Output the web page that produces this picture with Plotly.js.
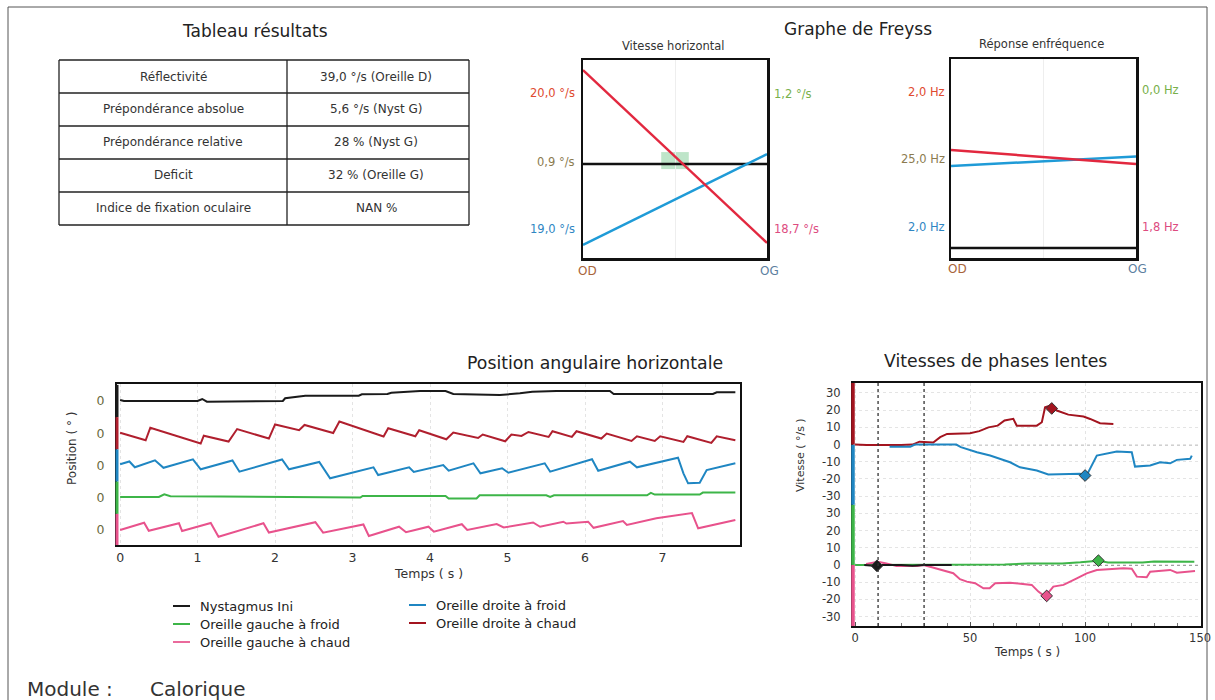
<!DOCTYPE html>
<html><head><meta charset="utf-8">
<script src="https://cdn.plot.ly/plotly-3.0.1.min.js"></script>
<style>html,body{margin:0;padding:0;background:#fff}#chart{width:1215px;height:700px}</style>
</head><body><div id="chart"></div>
<script>
// ---------- Tableau résultats ----------
const tableLabels = ['Réflectivité','Prépondérance absolue','Prépondérance relative','Deficit','Indice de fixation oculaire'];
const tableValues = ['39,0 °/s (Oreille D)','5,6 °/s (Nyst G)','28 % (Nyst G)','32 % (Oreille G)','NAN %'];

// ---------- Graphe de Freyss ----------
const freyssSides = ['OD','OG'];
const freyssX = [0, 1];
const freyssVitRed = [94.9, 7.6];
const freyssVitBlue = [6.6, 52.5];
const freyssVitBlack = [47.5, 47.5];
const freyssVitMarker = [0.5, 49.2];
const freyssVitLeft = ['20,0 °/s','0,9 °/s','19,0 °/s'];
const freyssVitRight = ['1,2 °/s','18,7 °/s'];
const freyssFreqRed = [54.3, 47.2];
const freyssFreqBlue = [46.2, 51.0];
const freyssFreqBlack = [5.0, 5.0];
const freyssFreqLeft = ['2,0 Hz','25,0 Hz','2,0 Hz'];
const freyssFreqRight = ['0,0 Hz','1,8 Hz'];

// ---------- Position angulaire horizontale ----------
const seriesNames = ['Nystagmus Ini','Oreille gauche à froid','Oreille gauche à chaud','Oreille droite à froid','Oreille droite à chaud'];
const posTicks = [0,1,2,3,4,5,6,7];
const posT_black = [0,0.05,1.0,1.06,1.12,1.9,2.1,2.13,2.39,3.08,3.12,3.45,3.5,3.87,4.2,4.3,4.9,5.16,5.32,5.63,6.32,6.37,7.65,7.7,7.94];
const posV_black = [1,0,0,2,-0.7,-0.3,0,2.7,5.3,5.3,6.7,7,8.3,10,10,7,6,7.7,9.3,10,10,7,7,8.7,8.7];
const posT_red = [0,0.33,0.39,1.04,1.08,1.40,1.51,1.92,2.00,2.31,2.38,2.75,2.83,3.40,3.46,3.81,3.86,4.21,4.30,4.62,4.68,4.97,5.05,5.18,5.27,5.53,5.58,5.83,5.89,6.21,6.28,6.60,6.67,6.90,6.97,7.27,7.32,7.63,7.70,7.94];
const posV_red = [0.5,-7,5.5,-10.3,-2.5,-8.3,4.2,-5.3,8.8,3,8.3,0.3,11.7,-3.3,5,-3,3,-6,0.7,-4.7,-1.3,-8,-1.3,-2.7,1.3,-3.7,2,-3.7,2,-5.3,-0.3,-7.7,-3,-7.7,-3,-8.7,-3,-9.7,-3,-7];
const posT_blue = [0,0.12,0.19,0.45,0.56,0.94,1.04,1.45,1.54,2.09,2.18,2.57,2.71,3.27,3.33,3.73,3.79,4.17,4.24,4.56,4.65,4.93,5.01,5.30,5.48,5.55,6.09,6.17,6.58,6.67,7.20,7.27,7.33,7.48,7.57,7.94];
const posV_blue = [1.2,4,-1.8,5.2,-2.3,6.2,-3.8,5,-6.2,6,-3.8,3.5,-12.8,-1.8,-9.5,-1.8,-6.5,0.5,-5.2,2.2,-7.8,-2.8,-7.2,-1.5,2.2,-6.2,6.2,-5.2,3.8,-1.8,7.8,-7.8,-17.8,-17.2,-4.5,2.2];
const posT_green = [0,0.5,0.57,0.65,1.3,2.0,2.6,3.1,3.13,4.2,4.24,4.6,4.64,5.5,5.55,5.6,6.8,6.85,6.9,7.48,7.52,7.94];
const posV_green = [0.8,0.8,3.5,1.5,1.2,0.8,0.2,0.2,1.8,1.8,-0.8,-0.8,2.5,2.5,0.8,2.5,2.5,4.8,3.2,3.2,5.2,5.2];
const posT_pink = [0,0.31,0.37,0.76,0.80,1.17,1.27,1.85,1.92,2.52,2.62,3.14,3.21,3.60,3.69,3.98,4.05,4.41,4.48,4.86,4.95,5.33,5.42,5.72,5.76,6.04,6.11,6.49,6.54,6.92,7.38,7.46,7.94];
const posV_pink = [0,7.3,-0.8,6.7,-1,7,-6.7,6.7,-2.5,7.8,-2.7,5.5,-6,3.3,-2.2,3.3,-1.7,5.8,0,6,2.5,7.5,3.2,8.3,6.5,8.3,2.2,9,5,11.7,17,1.7,10];

// ---------- Vitesses de phases lentes ----------
const velTicks = [0,50,100,150];
const velTickLabels = ['-30','-20','-10','0','10','20','30'];
const velWindow = [10, 30];
const velT_black = [4,8,12,20,25,30,42];
const velV_black = [0,-0.5,0,0,-0.5,0,0];
const velT_blue = [15,24,26,44,46,53,58.7,67.4,71.7,79,84,97.8,100,101.4,105.1,109.4,113.8,120.3,121.7,128.3,132.6,137,139.9,145.7,146.4];
const velV_blue = [-1.2,-1.2,0,0,-1.5,-4.5,-6.4,-10.3,-13.2,-15.1,-17.4,-17,-18,-16.1,-6.4,-5.4,-4.1,-4.5,-12.8,-12.2,-10.3,-10.9,-8.9,-8.3,-6.4];
const velT_green = [0,50,65,75,90,98,105.8,110,125,130,140,147.5];
const velV_green = [0,0,0.3,0.8,0.8,1.5,2.5,1.4,1.4,2,2,1.8];
const velT_red = [0,5,20,25,28,34,37,40,50,54,58,62,65,68.8,70.3,79,81.2,82.6,84.8,87.7,92.7,99.3,102.2,106.5,112.3];
const velV_red = [0,-0.3,-0.3,0,1.7,1.2,4.3,6.2,6.6,7.8,10,11,14,15,11,11,13,21.7,22.7,19.8,17.4,16.3,14.9,12.4,12];
const velT_pink = [4.8,10,13.6,18,27,29.7,32.6,38.4,42.7,45.6,48.6,52.2,55.8,58.5,60.9,67.4,76.8,79.7,82.6,86.2,90.6,96.4,100.7,105.1,116.7,120.3,122.5,126.8,128.3,137,139.9,147.8];
const velV_pink = [0.5,1.9,0.9,-0.6,-0.6,0,-1,-3.3,-4.8,-8.3,-9.7,-10.6,-13.6,-13.6,-10.6,-10.3,-11.6,-15.5,-18.4,-12.6,-11.6,-7.8,-4.9,-2.9,-1.9,-2.2,-6.8,-7.2,-3.9,-2.9,-4.5,-3.5];
// peaks: black, blue, green, red, pink
const velPeakT = [9.5, 100, 105.8, 85.5, 83.3];
const velPeakV = [-0.5, -18, 2.5, 21, -18];

// ---------- helpers / styles ----------
const W = 1215, H = 700;
const X = p => p / W, Y = p => 1 - p / H;
const C = {black:'#1a1a1a', red:'#b01f2e', vred:'#a3141f', blue:'#1f86c2', green:'#3db548', pink:'#e8528c'};
const BAND = 32.25;             // vertical spacing of position traces
const posOffset = {pink:0, green:BAND, blue:2*BAND, red:3*BAND, black:4*BAND};
const VEL_TOP = 70;             // offset of upper velocity panel
const add = (arr, o) => arr.map(v => v + o);

const traces = [];
// Freyss
const fl = (y, color, xa, ya) => ({type:'scatter', mode:'lines', x:freyssX, y, xaxis:xa, yaxis:ya, line:{color, width:2.5}, showlegend:false, hoverinfo:'skip'});
traces.push(fl(freyssVitBlack,'#111','x3','y3'), fl(freyssVitBlue,'#1f9bd7','x3','y3'), fl(freyssVitRed,'#e2283f','x3','y3'));
traces.push(fl(freyssFreqBlack,'#111','x4','y4'), fl(freyssFreqBlue,'#1f9bd7','x4','y4'), fl(freyssFreqRed,'#e2283f','x4','y4'));
// Position
const pl = (name, t, v, off, color) => ({type:'scatter', mode:'lines', name, x:t, y:add(v, off), xaxis:'x', yaxis:'y', line:{color, width:2}, showlegend:false});
traces.push(pl(seriesNames[0], posT_black, posV_black, posOffset.black, C.black));
traces.push(pl(seriesNames[4], posT_red, posV_red, posOffset.red, C.red));
traces.push(pl(seriesNames[3], posT_blue, posV_blue, posOffset.blue, C.blue));
traces.push(pl(seriesNames[1], posT_green, posV_green, posOffset.green, C.green));
traces.push(pl(seriesNames[2], posT_pink, posV_pink, posOffset.pink, C.pink));
// Velocity
const vl = (name, t, v, off, color) => ({type:'scatter', mode:'lines', name, x:t, y:add(v, off), xaxis:'x2', yaxis:'y2', line:{color, width:2}, showlegend:false});
traces.push(vl(seriesNames[4], velT_red, velV_red, VEL_TOP, C.vred));
traces.push(vl(seriesNames[3], velT_blue, velV_blue, VEL_TOP, C.blue));
traces.push(vl(seriesNames[1], velT_green, velV_green, 0, C.green));
traces.push(vl(seriesNames[2], velT_pink, velV_pink, 0, C.pink));
traces.push(vl(seriesNames[0], velT_black, velV_black, 0, C.black));
const peakColors = [C.black, C.blue, C.green, C.vred, C.pink];
const peakOff = [0, VEL_TOP, 0, VEL_TOP, 0];
traces.push({type:'scatter', mode:'markers', x:velPeakT, y:velPeakV.map((v,i)=>v+peakOff[i]), xaxis:'x2', yaxis:'y2',
  marker:{symbol:'diamond', size:9, color:peakColors, line:{color:'#333', width:1}}, showlegend:false});

// ---------- layout ----------
const boxAxis = {showline:true, mirror:true, linecolor:'#111', zeroline:false, fixedrange:true};
const layout = {
  width:W, height:H, margin:{l:0,r:0,t:0,b:0}, paper_bgcolor:'#fff', plot_bgcolor:'#fff',
  font:{family:'DejaVu Sans', color:'#333'}, showlegend:false,
  xaxis: Object.assign({}, boxAxis, {domain:[X(117), X(740)], range:[-0.04, 8.0], anchor:'y', linewidth:2,
    tickvals:posTicks, showgrid:true, gridcolor:'#e4e4e4', griddash:'dot', ticks:'',
    tickfont:{family:'DejaVu Sans', size:12.5, color:'#333'}}),
  yaxis: Object.assign({}, boxAxis, {domain:[Y(545), Y(384)], range:[-15, 146], anchor:'x', linewidth:2,
    tickvals:[posOffset.pink, posOffset.green, posOffset.blue, posOffset.red, posOffset.black],
    ticktext:['0','0','0','0','0'], showgrid:false, ticks:'', ticklabelstandoff:8,
    tickfont:{family:'DejaVu Sans', size:12.5, color:'#6b6b40'}}),
  xaxis2: Object.assign({}, boxAxis, {domain:[X(853), X(1201)], range:[-0.9, 150.4], anchor:'y2', linewidth:2,
    tickvals:velTicks, showgrid:true, gridcolor:'#e4e4e4', griddash:'dot', ticks:'inside', ticklen:4, tickcolor:'#555',
    minor:{dtick:10, ticks:'inside', ticklen:3, tickcolor:'#777', showgrid:false},
    tickfont:{family:'DejaVu Sans', size:11.5, color:'#333'}}),
  yaxis2: Object.assign({}, boxAxis, {domain:[Y(626), Y(383)], range:[-35.5, 105.8], anchor:'x2', linewidth:2,
    tickvals:[-30,-20,-10,0,10,20,30].concat([-30,-20,-10,0,10,20,30].map(v=>v+VEL_TOP)),
    ticktext:velTickLabels.concat(velTickLabels), showgrid:true, gridcolor:'#e4e4e4', griddash:'dot', ticks:'', ticklabelstandoff:8,
    tickfont:{family:'DejaVu Sans', size:11.5, color:'#333'}}),
  xaxis3: Object.assign({}, boxAxis, {domain:[X(583), X(767)], range:[0,1], anchor:'y3', linewidth:2.5,
    tickvals:[0.5], showticklabels:false, ticks:'', showgrid:true, gridcolor:'#eeeeee'}),
  yaxis3: Object.assign({}, boxAxis, {domain:[Y(258), Y(60)], range:[0,100], anchor:'x3', linewidth:2.5,
    showticklabels:false, ticks:'', showgrid:false}),
  xaxis4: Object.assign({}, boxAxis, {domain:[X(951), X(1136)], range:[0,1], anchor:'y4', linewidth:2.5,
    tickvals:[0.5], showticklabels:false, ticks:'', showgrid:true, gridcolor:'#eeeeee'}),
  yaxis4: Object.assign({}, boxAxis, {domain:[Y(258), Y(59)], range:[0,100], anchor:'x4', linewidth:2.5,
    showticklabels:false, ticks:'', showgrid:false}),
  shapes:[], annotations:[]
};

const S = layout.shapes, A = layout.annotations;
const ann = (text, px, py, o={}) => A.push(Object.assign({text, x:X(px), y:Y(py), xref:'paper', yref:'paper', showarrow:false,
  xanchor:'center', yanchor:'middle', font:{family:'DejaVu Sans', size:12, color:'#333'}}, o));
const pline = (x0, y0, x1, y1, color, width, dash) => S.push({type:'line', xref:'paper', yref:'paper',
  x0:X(x0), y0:Y(y0), x1:X(x1), y1:Y(y1), line:{color, width, dash:dash||'solid'}});

// page frame
S.push({type:'rect', xref:'paper', yref:'paper', x0:X(8), x1:X(1207), y0:Y(712), y1:Y(7), line:{color:'#555', width:1}});

// Table (grid + text built from the table arrays)
const tblL = 59, tblM = 287, tblR = 469, tblTop = 60, rowH = 33;
const nRows = tableLabels.length;
for (let i = 0; i <= nRows; i++) pline(tblL, tblTop + i*rowH, tblR, tblTop + i*rowH, '#222', 1.3);
[tblL, tblM, tblR].forEach(x => pline(x, tblTop, x, tblTop + nRows*rowH, '#222', 1.3));
tableLabels.forEach((lab, i) => {
  const yc = tblTop + (i + 0.5)*rowH;
  ann(lab, (tblL + tblM)/2, yc, {font:{family:'DejaVu Sans', size:12, color:'#333'}});
  ann(tableValues[i], (tblM + tblR)/2 - 2, yc, {font:{family:'DejaVu Sans', size:12, color:'#333'}});
});

// Titles
const titleFont = {family:'DejaVu Sans', size:17, color:'#222'};
ann('Tableau résultats', 255, 31, {font:titleFont});
ann('Graphe de Freyss', 858, 29, {font:titleFont});
ann('Vitesse horizontal', 673, 46, {font:{family:'DejaVu Sans', size:11.5, color:'#333'}});
ann('Réponse enfréquence', 1041, 44, {font:{family:'DejaVu Sans', size:11.5, color:'#333'}});
ann('Position angulaire horizontale', 595, 363, {font:{family:'DejaVu Sans', size:17.3, color:'#222'}});
ann('Vitesses de phases lentes', 995, 361, {font:{family:'DejaVu Sans', size:17.3, color:'#222'}});

// Freyss labels
const lblRed = '#e04a2f', lblOlive = '#8b7b4f', lblBlue = '#2f86c3', lblGreen = '#78b04a', lblPink = '#dd4c7f';
const fLbl = {family:'DejaVu Sans', size:11.5};
ann(freyssVitLeft[0], 577, 93, {xanchor:'right', font:Object.assign({color:lblRed}, fLbl)});
ann(freyssVitLeft[1], 577, 162, {xanchor:'right', font:Object.assign({color:lblOlive}, fLbl)});
ann(freyssVitLeft[2], 577, 229, {xanchor:'right', font:Object.assign({color:lblBlue}, fLbl)});
ann(freyssVitRight[0], 772, 94, {xanchor:'left', font:Object.assign({color:lblGreen}, fLbl)});
ann(freyssVitRight[1], 772, 229, {xanchor:'left', font:Object.assign({color:lblPink}, fLbl)});
ann(freyssSides[0], 587, 271, {font:{family:'DejaVu Sans', size:12, color:'#a8643a'}});
ann(freyssSides[1], 769, 271, {font:{family:'DejaVu Sans', size:12, color:'#5d7f9f'}});
ann(freyssFreqLeft[0], 947, 92, {xanchor:'right', font:Object.assign({color:lblRed}, fLbl)});
ann(freyssFreqLeft[1], 947, 159, {xanchor:'right', font:Object.assign({color:lblOlive}, fLbl)});
ann(freyssFreqLeft[2], 947, 227, {xanchor:'right', font:Object.assign({color:lblBlue}, fLbl)});
ann(freyssFreqRight[0], 1140, 90, {xanchor:'left', font:Object.assign({color:lblGreen}, fLbl)});
ann(freyssFreqRight[1], 1140, 227, {xanchor:'left', font:Object.assign({color:lblPink}, fLbl)});
ann(freyssSides[0], 957, 269, {font:{family:'DejaVu Sans', size:12, color:'#a8643a'}});
ann(freyssSides[1], 1137, 269, {font:{family:'DejaVu Sans', size:12, color:'#5d7f9f'}});
// green marker on Freyss
S.push({type:'rect', xref:'x3', yref:'y3', layer:'below', x0:freyssVitMarker[0]-0.075, x1:freyssVitMarker[0]+0.075,
  y0:freyssVitMarker[1]-4.3, y1:freyssVitMarker[1]+4.3, fillcolor:'rgba(70,180,100,0.35)', line:{width:0}});

// Position chart: coloured axis segments
[['black',C.black],['red',C.red],['blue',C.blue],['green',C.green],['pink',C.pink]].forEach(([k,c]) => {
  S.push({type:'line', xref:'x domain', yref:'y', x0:0, x1:0, y0:posOffset[k]-BAND/2, y1:posOffset[k]+BAND/2, line:{color:c, width:3}});
});
ann('Temps ( s )', 428, 573, {font:{family:'DejaVu Sans', size:12.5, color:'#333'}});
ann('Position ( ° )', 72, 448, {textangle:-90, font:{family:'DejaVu Sans', size:12, color:'#333'}});

// Velocity chart: coloured axis segments
[[-35.5,0,C.pink],[0,35,C.green],[35,VEL_TOP,C.blue],[VEL_TOP,105.8,C.vred]].forEach(([a,b,c]) => {
  S.push({type:'line', xref:'x2 domain', yref:'y2', x0:0, x1:0, y0:a, y1:b, line:{color:c, width:3.5}});
});
velWindow.forEach(t => S.push({type:'line', xref:'x2', yref:'y2 domain', x0:t, x1:t, y0:0, y1:1, line:{color:'#333', width:1.3, dash:'dot'}}));
[0, VEL_TOP].forEach(v => S.push({type:'line', xref:'x2 domain', yref:'y2', x0:0, x1:1, y0:v, y1:v, line:{color:'#444', width:1.3, dash:'dot'}, layer:'below'}));
ann('Temps ( s )', 1027, 652, {font:{family:'DejaVu Sans', size:12, color:'#333'}});
ann('Vitesse ( °/s )', 800, 455, {textangle:-90, font:{family:'DejaVu Sans', size:11, color:'#333'}});

// Legend (drawn)
const legendItems = [
  [seriesNames[0], C.black, 173, 606], [seriesNames[3], C.blue, 409, 605],
  [seriesNames[1], C.green, 173, 624], [seriesNames[4], C.vred, 409, 623],
  [seriesNames[2], '#ea6a9c', 173, 642]
];
legendItems.forEach(([name, c, x, y]) => {
  pline(x, y, x+17, y, c, 2);
  ann(name, x+25, y, {xanchor:'left', font:{family:'DejaVu Sans', size:13, color:'#222'}});
});

// Module
ann('Module :', 25, 689, {xanchor:'left', font:{family:'DejaVu Sans', size:20, color:'#333'}});
ann('Calorique', 148, 689, {xanchor:'left', font:{family:'DejaVu Sans', size:20, color:'#333'}});

Plotly.newPlot('chart', traces, layout, {displayModeBar:false, staticPlot:true});
</script></body></html>
